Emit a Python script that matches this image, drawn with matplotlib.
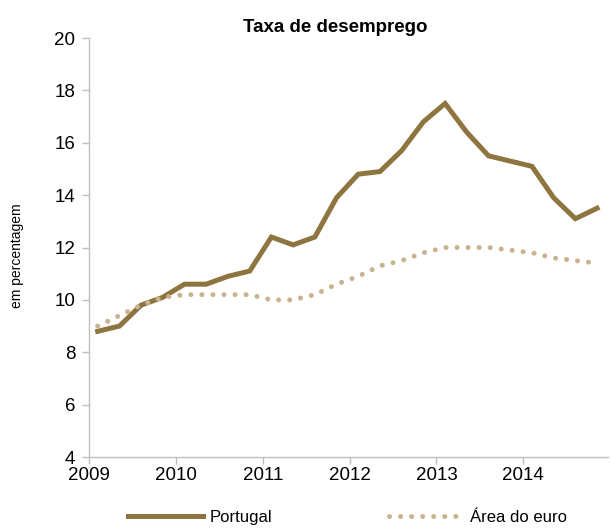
import matplotlib
matplotlib.use("Agg")
import matplotlib.pyplot as plt
import numpy as np

plt.rcParams["font.family"] = ["Liberation Sans", "DejaVu Sans"]

# quarterly data, 2009Q1 - 2014Q4
years = [2009, 2010, 2011, 2012, 2013, 2014]
portugal = [8.8, 9.0, 9.8, 10.1, 10.6, 10.6, 10.9, 11.1,
            12.4, 12.1, 12.4, 13.9, 14.8, 14.9, 15.7, 16.8,
            17.5, 16.4, 15.5, 15.3, 15.1, 13.9, 13.1, 13.5]
euro_area = [9.0, 9.4, 9.8, 10.1, 10.2, 10.2, 10.2, 10.2,
             10.0, 10.0, 10.2, 10.6, 10.9, 11.3, 11.5, 11.8,
             12.0, 12.0, 12.0, 11.9, 11.8, 11.6, 11.5, 11.4]
yticks = [4, 6, 8, 10, 12, 14, 16, 18, 20]

x = years[0] + 0.1 + 0.25 * np.arange(len(portugal))

fig = plt.figure(figsize=(6.11, 5.30), dpi=100)
ax = fig.add_axes([0.1457, 0.1377, 0.85, 0.7906])

ax.plot(x, portugal, color="#8E7540", lw=3.6, solid_joinstyle="miter",
        label="Portugal")
ax.plot(x, euro_area, color="#C9B38E", lw=3.6, linestyle=(0, (0.01, 2.2)),
        dash_capstyle="round", label="Área do euro")

ax.set_xlim(2009, 2014.98)
ax.set_ylim(4, 20)
ax.set_xticks(years)
ax.set_xticklabels([str(y) for y in years])
ax.set_yticks(yticks)

for s in ["top", "right"]:
    ax.spines[s].set_visible(False)
for s in ["left", "bottom"]:
    ax.spines[s].set_color("#BFBFBF")
    ax.spines[s].set_linewidth(1.0)
ax.tick_params(axis="both", colors="#BFBFBF", labelcolor="black",
               labelsize=13.5, length=5, width=1.0)
ax.tick_params(axis="x", pad=2)
ax.tick_params(axis="y", pad=5)

ax.set_ylabel("em percentagem", fontsize=10)
ax.yaxis.set_label_coords(-0.125, 0.48)

fig.text(0.548, 0.948, "Taxa de desemprego", ha="center", va="center",
         fontsize=13.5, fontweight="bold",
         family=["Liberation Sans Narrow", "Liberation Sans", "DejaVu Sans"])

fig.legend(loc="lower center", bbox_to_anchor=(0.569, -0.018), ncol=2,
           frameon=False, fontsize=12, handlelength=4.5, columnspacing=7.0,
           handletextpad=0.4)

fig.savefig("out.png", dpi=100)
